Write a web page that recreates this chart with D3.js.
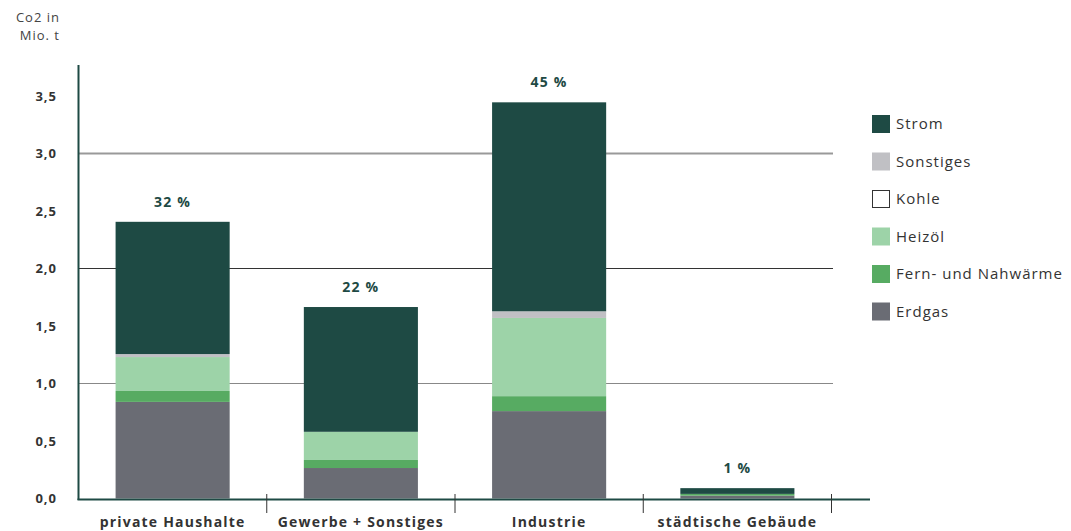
<!DOCTYPE html>
<html>
<head>
<meta charset="utf-8">
<script src="https://cdn.jsdelivr.net/npm/d3@7"></script>
<style>
  body { margin: 0; background: #fff; }
  text { font-family: "Open Sans", sans-serif; }
</style>
</head>
<body>
<div id="chart"></div>
<script>
const width = 1071;
const height = 531;

const categories = ["private Haushalte", "Gewerbe + Sonstiges", "Industrie", "städtische Gebäude"];
const shares = ["32 %", "22 %", "45 %", "1 %"];
// stack order bottom -> top
const series = ["Erdgas", "Fern- und Nahwärme", "Heizöl", "Kohle", "Sonstiges", "Strom"];
const erdgas = [0.84, 0.265, 0.76, 0.025];
const fernwaerme = [0.095, 0.07, 0.13, 0.015];
const heizoel = [0.295, 0.245, 0.68, 0];
const kohle = [0, 0, 0, 0];
const sonstiges = [0.026, 0, 0.058, 0];
const strom = [1.15, 1.085, 1.817, 0.05];
const yTicks = [0, 0.5, 1, 1.5, 2, 2.5, 3, 3.5];
const gridValues = [1, 2, 3];

const colors = {
  "Strom": "#1e4a44",
  "Sonstiges": "#c0c0c4",
  "Kohle": "#ffffff",
  "Heizöl": "#9dd3a8",
  "Fern- und Nahwärme": "#57ab62",
  "Erdgas": "#6a6c74"
};
const legendOrder = ["Strom", "Sonstiges", "Kohle", "Heizöl", "Fern- und Nahwärme", "Erdgas"];

const table = categories.map((c, i) => ({
  cat: c,
  "Erdgas": erdgas[i],
  "Fern- und Nahwärme": fernwaerme[i],
  "Heizöl": heizoel[i],
  "Kohle": kohle[i],
  "Sonstiges": sonstiges[i],
  "Strom": strom[i]
}));

const svg = d3.select("#chart").append("svg")
  .attr("width", width).attr("height", height);

const x = d3.scaleBand().domain(categories).range([78.5, 831.5])
  .paddingInner(0.394).paddingOuter(0.197);
const y = d3.scaleLinear().domain([0, 3.5]).range([498.5, 96]);

// gridlines
const gridStyle = { 1: ["#888", 1.2], 2: ["#333", 1], 3: ["#999", 1.8] };
svg.append("g").selectAll("line").data(gridValues).join("line")
  .attr("x1", 78).attr("x2", 833)
  .attr("y1", d => y(d)).attr("y2", d => y(d))
  .attr("stroke", d => gridStyle[d][0]).attr("stroke-width", d => gridStyle[d][1]);

// bars
const stacked = d3.stack().keys(series)(table);
svg.append("g").selectAll("g").data(stacked).join("g")
  .attr("fill", d => colors[d.key])
  .selectAll("rect").data(d => d).join("rect")
  .attr("x", d => x(d.data.cat))
  .attr("width", x.bandwidth())
  .attr("y", d => y(d[1]))
  .attr("height", d => y(d[0]) - y(d[1]));

// percent labels
svg.append("g").selectAll("text").data(categories).join("text")
  .attr("x", d => x(d) + x.bandwidth() / 2)
  .attr("y", (d, i) => y(d3.sum(series, k => table[i][k])) - 15)
  .attr("text-anchor", "middle")
  .style("font-size", "14px").style("font-weight", "700")
  .style("letter-spacing", "1.2px")
  .style("fill", "#1e4a44")
  .text((d, i) => shares[i]);

// y axis
svg.append("line")
  .attr("x1", 78.5).attr("x2", 78.5).attr("y1", 65).attr("y2", 500)
  .attr("stroke", "#1e4a44").attr("stroke-width", 2);

svg.append("g").selectAll("text").data(yTicks).join("text")
  .attr("x", 57).attr("y", d => y(d) + 4.5)
  .attr("text-anchor", "end")
  .style("font-size", "13px").style("font-weight", "700")
  .style("letter-spacing", "1px")
  .style("fill", "#333")
  .text(d => d3.format(".1f")(d).replace(".", ","));

svg.append("text").attr("x", 60).attr("y", 22).attr("text-anchor", "end")
  .style("font-size", "13px").style("fill", "#444").style("letter-spacing", "1px")
  .text("Co2 in");
svg.append("text").attr("x", 60).attr("y", 40).attr("text-anchor", "end")
  .style("font-size", "13px").style("fill", "#444").style("letter-spacing", "1px")
  .text("Mio. t");

// x axis baseline + ticks
svg.append("line")
  .attr("x1", 77.5).attr("x2", 870).attr("y1", 499.5).attr("y2", 499.5)
  .attr("stroke", "#1e4a44").attr("stroke-width", 2.2);

const boundaries = categories.map(c => x(c) + x.bandwidth() + x.step() * x.paddingInner() / 2);
svg.append("g").selectAll("line").data(boundaries).join("line")
  .attr("x1", d => d).attr("x2", d => d).attr("y1", 494).attr("y2", 513)
  .attr("stroke", "#333").attr("stroke-width", 1);

svg.append("g").selectAll("text").data(categories).join("text")
  .attr("x", d => x(d) + x.bandwidth() / 2)
  .attr("y", 527)
  .attr("text-anchor", "middle")
  .style("font-size", "14px").style("font-weight", "700")
  .style("letter-spacing", "1.2px")
  .style("fill", "#333")
  .text(d => d);

// legend
const legend = svg.append("g").attr("transform", "translate(872, 115)");
const item = legend.selectAll("g").data(legendOrder).join("g")
  .attr("transform", (d, i) => `translate(0, ${i * 37.5})`);
item.append("rect")
  .attr("x", d => d === "Kohle" ? 0.5 : 0).attr("y", d => d === "Kohle" ? 0.5 : 0)
  .attr("width", d => d === "Kohle" ? 17 : 18).attr("height", d => d === "Kohle" ? 17 : 18)
  .attr("fill", d => colors[d])
  .attr("stroke", d => d === "Kohle" ? "#333" : "none").attr("stroke-width", 1);
item.append("text").attr("x", 24).attr("y", 14)
  .style("font-size", "15px").style("letter-spacing", "1px").style("fill", "#333")
  .text(d => d);
</script>
</body>
</html>
